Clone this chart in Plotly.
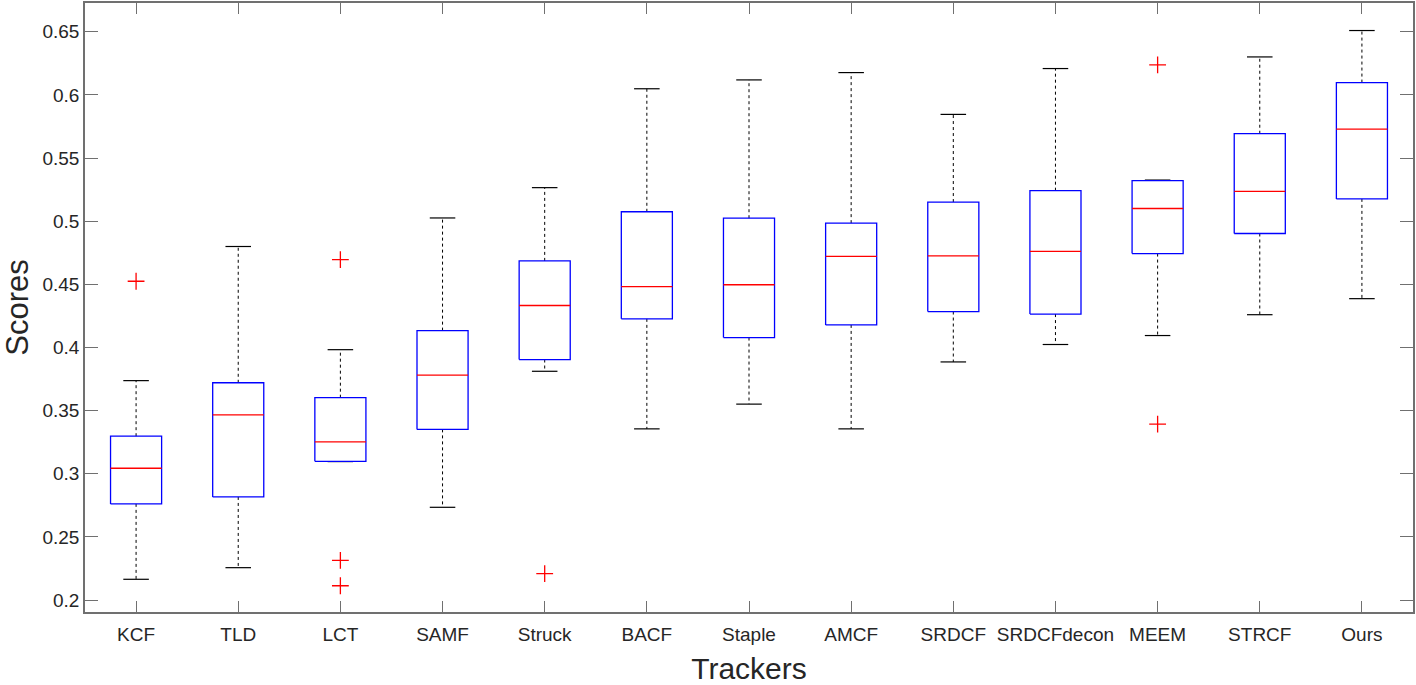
import plotly.graph_objects as go

trackers = ["KCF", "TLD", "LCT", "SAMF", "Struck", "BACF", "Staple", "AMCF",
            "SRDCF", "SRDCFdecon", "MEEM", "STRCF", "Ours"]
lower_whisker = [0.2165, 0.2257, 0.3097, 0.2735, 0.3812, 0.3356, 0.3552, 0.3356,
                 0.3886, 0.4024, 0.4095, 0.4260, 0.4387]
q1 = [0.2762, 0.2817, 0.3099, 0.3352, 0.3905, 0.4227, 0.4079, 0.4179,
      0.4285, 0.4265, 0.4744, 0.4903, 0.5177]
median = [0.3044, 0.3467, 0.3253, 0.3781, 0.4333, 0.4483, 0.4497, 0.4722,
          0.4725, 0.4762, 0.5101, 0.5236, 0.5730]
q3 = [0.3298, 0.3721, 0.3603, 0.4134, 0.4686, 0.5075, 0.5024, 0.4985,
      0.5152, 0.5242, 0.5322, 0.5693, 0.6098]
upper_whisker = [0.3738, 0.4800, 0.3983, 0.5026, 0.5266, 0.6049, 0.6119, 0.6177,
                 0.5846, 0.6209, 0.5326, 0.6301, 0.6510]
outliers = {
    "KCF": [0.4525],
    "LCT": [0.4696, 0.2315, 0.2114],
    "Struck": [0.2210],
    "MEEM": [0.6238, 0.3393],
}
y_ticks = [0.2, 0.25, 0.3, 0.35, 0.4, 0.45, 0.5, 0.55, 0.6, 0.65]
y_tick_labels = ["0.2", "0.25", "0.3", "0.35", "0.4", "0.45", "0.5", "0.55", "0.6", "0.65"]

HALF_BOX = 0.25
HALF_CAP = 0.125

box_x, box_y = [], []
med_x, med_y = [], []
wh_x, wh_y = [], []
cap_x, cap_y = [], []
for i, name in enumerate(trackers):
    c = i + 1
    box_x += [c - HALF_BOX, c + HALF_BOX, c + HALF_BOX, c - HALF_BOX, c - HALF_BOX, None]
    box_y += [q1[i], q1[i], q3[i], q3[i], q1[i], None]
    med_x += [c - HALF_BOX, c + HALF_BOX, None]
    med_y += [median[i], median[i], None]
    wh_x += [c, c, None, c, c, None]
    wh_y += [q3[i], upper_whisker[i], None, q1[i], lower_whisker[i], None]
    cap_x += [c - HALF_CAP, c + HALF_CAP, None, c - HALF_CAP, c + HALF_CAP, None]
    cap_y += [upper_whisker[i], upper_whisker[i], None, lower_whisker[i], lower_whisker[i], None]

out_x, out_y = [], []
for name, vals in outliers.items():
    c = trackers.index(name) + 1
    for v in vals:
        out_x.append(c)
        out_y.append(v)

fig = go.Figure()
fig.add_trace(go.Scatter(x=wh_x, y=wh_y, mode="lines",
                         line=dict(color="black", width=1, dash="3px,3px"),
                         hoverinfo="skip", showlegend=False))
fig.add_trace(go.Scatter(x=cap_x, y=cap_y, mode="lines",
                         line=dict(color="black", width=1.2),
                         hoverinfo="skip", showlegend=False))
fig.add_trace(go.Scatter(x=box_x, y=box_y, mode="lines",
                         line=dict(color="#0000ff", width=1.3),
                         hoverinfo="skip", showlegend=False))
fig.add_trace(go.Scatter(x=med_x, y=med_y, mode="lines",
                         line=dict(color="#ff0000", width=1.3),
                         hoverinfo="skip", showlegend=False))
fig.add_trace(go.Scatter(x=out_x, y=out_y, mode="markers",
                         marker=dict(symbol="cross-thin-open", size=12, color="#ff0000",
                                     line=dict(color="#ff0000", width=1.3)),
                         hoverinfo="skip", showlegend=False))

axis_color = "#707070"
fig.update_layout(
    width=1416, height=685,
    margin=dict(l=85, r=2, t=1, b=70),
    paper_bgcolor="white", plot_bgcolor="white",
    font=dict(family="Liberation Sans, Arial, sans-serif", color="#262626", size=19),
    showlegend=False,
)
fig.update_xaxes(
    range=[0.5, 13.5],
    tickmode="array", tickvals=list(range(1, len(trackers) + 1)), ticktext=trackers,
    ticks="inside", ticklen=11, tickwidth=1.2, tickcolor=axis_color,
    showline=True, linecolor=axis_color, linewidth=1.5, mirror="ticks",
    showgrid=False, zeroline=False, ticklabelstandoff=4,
    tickfont=dict(size=19, color="#262626"),
    title=dict(text="Trackers", font=dict(size=30, color="#262626"), standoff=18),
)
fig.update_yaxes(
    range=[0.1906, 0.6728],
    tickmode="array", tickvals=y_ticks, ticktext=y_tick_labels,
    ticks="inside", ticklen=13, tickwidth=1.2, tickcolor=axis_color,
    showline=True, linecolor=axis_color, linewidth=1.5, mirror="ticks",
    showgrid=False, zeroline=False,
    tickfont=dict(size=19, color="#262626"),
    title=dict(text="Scores", font=dict(size=31, color="#262626"), standoff=6),
)

fig.write_html("out.html", config={"displayModeBar": False},
               post_script="document.body.style.margin='0';")
